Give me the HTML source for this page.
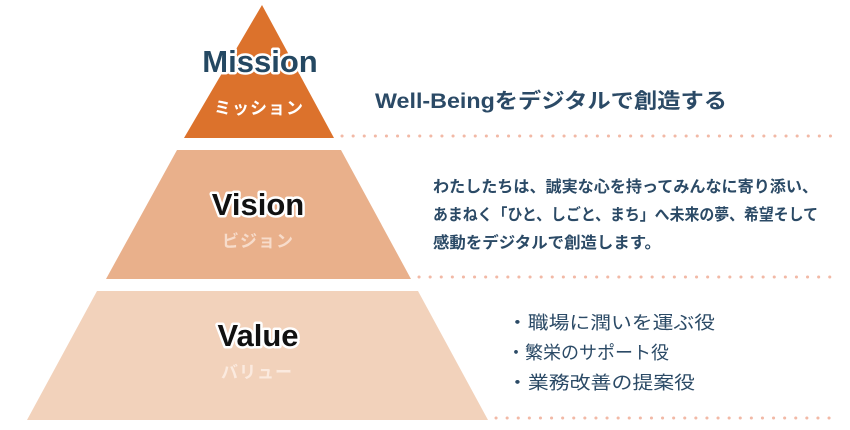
<!DOCTYPE html>
<html><head><meta charset="utf-8"><style>
html,body{margin:0;padding:0;background:#fff;}
svg{display:block;}
text{font-family:"Liberation Sans","Noto Sans CJK JP",sans-serif;}
</style></head><body>
<svg width="850" height="430" viewBox="0 0 850 430" xmlns="http://www.w3.org/2000/svg">
<polygon points="262,5 334,138 184,138" fill="#dc722c"/>
<polygon points="177,150 341,150 411,279 106,279" fill="#e9b08b"/>
<polygon points="97,291 418,291 488,420 27,420" fill="#f2d2bb"/>
<line x1="342" y1="136" x2="832" y2="136" stroke="#f2b9a6" stroke-width="3" stroke-linecap="round" stroke-dasharray="0.1 11"/>
<line x1="419" y1="277" x2="832" y2="277" stroke="#f2b9a6" stroke-width="3" stroke-linecap="round" stroke-dasharray="0.1 11"/>
<line x1="496" y1="418" x2="832" y2="418" stroke="#f2b9a6" stroke-width="3" stroke-linecap="round" stroke-dasharray="0.1 11"/>
<g font-weight="bold" text-anchor="middle" font-size="31" stroke="#fff" stroke-width="5" paint-order="stroke" stroke-linejoin="round">
<text x="260" y="72" fill="#244862">Mission</text>
<text x="258" y="215" fill="#111">Vision</text>
<text x="258" y="346" fill="#111">Value</text>
</g>
<g font-weight="bold" text-anchor="middle" font-size="17">
<text x="259" y="114" fill="#fff" letter-spacing="1">ミッション</text>
<text x="258" y="247" fill="#f7dccb" letter-spacing="1">ビジョン</text>
<text x="257" y="378" fill="#fbeadf" letter-spacing="1">バリュー</text>
</g>
<g fill="#2b4a66" font-weight="bold">
<text x="375" y="108" font-size="21" textLength="352" lengthAdjust="spacingAndGlyphs">Well-Beingをデジタルで創造する</text>
<text x="433" y="192" font-size="16" textLength="385" lengthAdjust="spacingAndGlyphs">わたしたちは、誠実な心を持ってみんなに寄り添い、</text>
<text x="433" y="220" font-size="16" textLength="385" lengthAdjust="spacingAndGlyphs">あまねく「ひと、しごと、まち」へ未来の夢、希望そして</text>
<text x="433" y="248" font-size="16" textLength="228" lengthAdjust="spacingAndGlyphs">感動をデジタルで創造します。</text>
</g>
<g fill="#2b4a66" font-size="18">
<text x="507" y="329" textLength="208" lengthAdjust="spacingAndGlyphs">・職場に潤いを運ぶ役</text>
<text x="507" y="359" textLength="162" lengthAdjust="spacingAndGlyphs">・繁栄のサポート役</text>
<text x="507" y="389" textLength="188" lengthAdjust="spacingAndGlyphs">・業務改善の提案役</text>
</g>
</svg>
</body></html>
